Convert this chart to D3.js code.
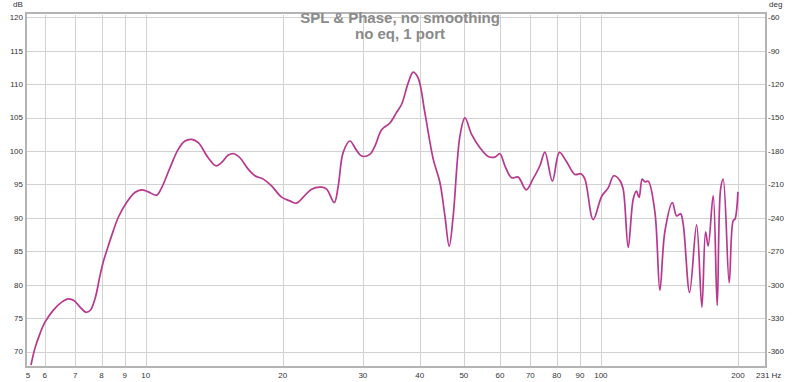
<!DOCTYPE html>
<html><head><meta charset="utf-8">
<script src="https://cdn.jsdelivr.net/npm/d3@7"></script>
<style>html,body{margin:0;padding:0;background:#fff;}svg{display:block;font-family:"Liberation Sans",Arial,sans-serif;}</style>
</head><body>
<svg id="c" width="800" height="382"></svg>
<script>
const titleLines = ["SPL & Phase, no smoothing", "no eq, 1 port"];
const freqDomain = [5.46, 230.5];
const dbDomain = [67.7, 120.35];
const dbTicks = [70, 75, 80, 85, 90, 95, 100, 105, 110, 115, 120];
const degTicks = [-360, -330, -300, -270, -240, -210, -180, -150, -120, -90, -60];
const freqGrid = [6, 7, 8, 9, 10, 20, 30, 40, 50, 60, 70, 80, 90, 100, 200];
const freqLabels = ["6", "7", "8", "9", "10", "20", "30", "40", "50", "60", "70", "80", "90", "100", "200"];
const freqEdgeLabels = ["5", "231 Hz"];
const freq = [5.60,5.71,5.86,6.01,6.27,6.54,6.76,6.96,7.17,7.39,7.55,7.74,7.94,8.07,8.24,8.35,8.71,9.08,9.47,9.80,
  10.13,10.57,10.84,11.31,11.79,12.20,12.62,13.05,13.72,14.27,14.69,15.19,15.63,16.11,16.80,17.38,18.13,18.91,19.89,20.75,
  21.46,22.19,23.15,24.35,24.98,25.96,26.49,27.16,28.10,28.97,29.81,31.09,31.89,32.99,34.40,35.59,36.50,37.74,38.70,39.69,
  41.06,42.82,44.30,45.43,46.43,47.38,49.01,50.27,52.00,54.23,56.55,58.50,60.00,61.54,63.66,65.82,68.54,70.90,73.45,75.34,
  78.25,81.07,84.07,87.68,90.38,92.23,96.18,100.36,103.76,106.80,110.09,111.94,114.81,117.75,119.67,121.31,123.23,124.92,127.03,131.40,
  134.77,138.22,143.56,146.65,149.64,151.62,156.61,162.26,166.66,169.81,172.06,176.47,180.07,183.20,185.62,191.34,195.25,196.94,200.0];
const spl = [68.0,70.45,72.7,74.4,76.2,77.4,77.9,77.65,76.7,75.9,76.15,77.9,81.4,83.4,85.4,86.6,90.1,92.3,93.8,94.2,
  93.9,93.4,94.5,97.5,100.25,101.5,101.75,101.25,99.0,97.8,98.3,99.4,99.6,99.0,97.3,96.3,95.8,94.8,93.1,92.55,
  92.2,93.1,94.3,94.6,94.3,92.3,94.8,99.8,101.5,100.25,99.25,99.5,100.75,103.2,104.2,105.8,107.0,110.2,111.8,110.9,
  105.7,98.8,95.3,90.3,85.75,90.3,102.2,104.95,102.5,100.5,99.2,99.1,99.6,97.8,96.0,96.1,94.2,95.8,97.8,99.85,
  95.5,99.8,98.4,96.5,96.6,95.8,89.75,93.2,94.5,96.3,95.6,94.3,85.6,92.8,94.0,93.05,95.8,95.4,95.5,90.9,
  79.2,88.0,92.3,90.3,90.6,89.1,78.85,88.95,76.65,87.9,85.8,93.35,76.9,94.3,95.8,80.3,89.6,89.8,93.9];

const L = 26, R = 766, T = 15, B = 367;
const svg = d3.select("#c");
const x = d3.scaleLog().domain(freqDomain).range([L, R]);
const y = d3.scaleLinear().domain(dbDomain).range([B, T]);
const yDeg = d3.scaleLinear().domain([dbDomain[0]*6 - 780, dbDomain[1]*6 - 780]).range([B, T]);

const grid = svg.append("g").attr("stroke", "#d2d2d2").attr("stroke-width", 1).attr("shape-rendering", "crispEdges");
dbTicks.forEach(v => grid.append("line").attr("x1", L).attr("x2", R).attr("y1", Math.round(y(v))+0.5).attr("y2", Math.round(y(v))+0.5));
freqGrid.forEach(v => grid.append("line").attr("y1", T).attr("y2", B).attr("x1", Math.round(x(v))+0.5).attr("x2", Math.round(x(v))+0.5));

// frame
svg.append("rect").attr("x", L).attr("y", T - 2).attr("width", R - L).attr("height", B - T + 2)
  .attr("fill", "none").attr("stroke", "#b4b4b4").attr("stroke-width", 2);

// axis labels
const lab = svg.append("g").attr("font-size", 8).attr("fill", "#333");
dbTicks.forEach(v => lab.append("text").attr("x", 23).attr("y", y(v)).attr("dy", "0.35em").attr("text-anchor", "end").text(v));
degTicks.forEach(v => lab.append("text").attr("x", 768).attr("y", yDeg(v)).attr("dy", "0.35em").attr("text-anchor", "start").text(v));
lab.append("text").attr("x", 13).attr("y", 7).text("dB");
lab.append("text").attr("x", 769).attr("y", 7).text("deg");
freqGrid.forEach((v, i) => lab.append("text").attr("x", x(v)).attr("y", 378).attr("text-anchor", "middle").text(freqLabels[i]));
lab.append("text").attr("x", x(freqDomain[0]) + 2).attr("y", 378).attr("text-anchor", "middle").text(freqEdgeLabels[0]);
lab.append("text").attr("x", 756).attr("y", 378).attr("text-anchor", "start").text(freqEdgeLabels[1]);

// title
const tt = svg.append("g").attr("font-size", 15).attr("font-weight", "bold").attr("fill", "#8a8a8a").attr("text-anchor", "middle");
titleLines.forEach((t, i) => tt.append("text").attr("x", 400).attr("y", 23 + i * 16).text(t));

// curve
svg.append("clipPath").attr("id", "clip").append("rect").attr("x", L).attr("y", T).attr("width", R - L).attr("height", B - T);
const pts = freq.map((f, i) => [f, spl[i]]);
const line = d3.line().x(d => x(d[0])).y(d => y(d[1])).curve(d3.curveCatmullRom.alpha(0.5));
svg.append("path").attr("clip-path", "url(#clip)").attr("d", line(pts))
  .attr("fill", "none").attr("stroke", "#b8378f").attr("stroke-width", 1.7).attr("stroke-linejoin", "round");
</script>
</body></html>
